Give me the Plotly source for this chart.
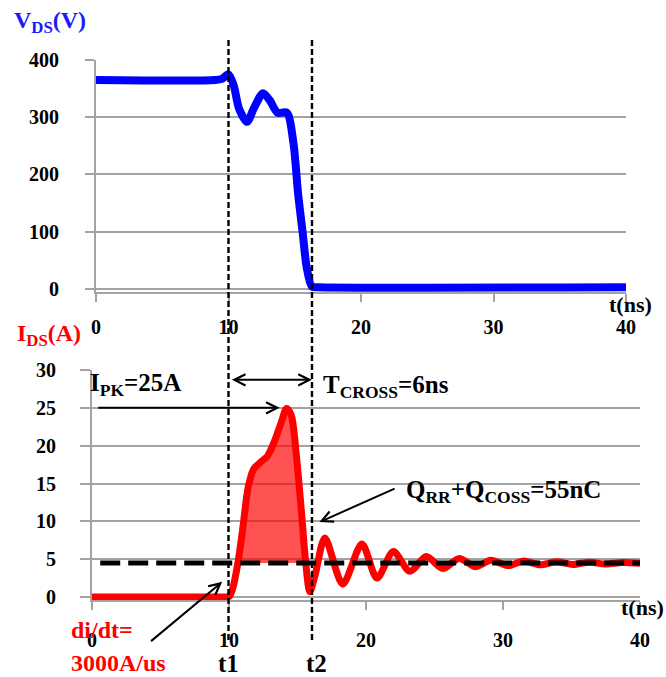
import plotly.graph_objects as go

# ---------------- data ----------------
t_v = [0, 9.0, 9.5, 10.0, 10.4, 10.8, 11.4, 11.9, 12.6, 13.1, 13.7, 14.4, 14.9,
       15.25, 15.6, 15.9, 16.3, 16.8, 40]
v_ds = [365, 365, 367, 375, 355, 315, 292, 315, 342, 330, 308, 308, 255,
        167, 98, 38, 4, 3, 3]

t_i = [0, 5.0, 9.6, 10.0, 10.25, 10.65, 11.0, 11.4, 11.8, 12.3, 12.8, 13.3, 13.8, 14.2, 14.55,
       14.9, 15.3, 15.6, 15.9, 16.3, 17.0, 18.3, 19.7, 20.8, 22.0, 23.2, 24.4, 25.6,
       26.8, 28.0, 29.1, 30.4, 31.5, 32.7, 33.9, 35.1, 36.3, 37.5, 38.7, 40]
i_ds = [0, 0, 0, 0.05, 1.0, 4.5, 9.0, 14.5, 16.9, 17.8, 18.6, 20.5, 23.0, 24.9, 24.0,
        19.0, 11.0, 4.5, 0.7, 3.0, 7.8, 1.7, 7.0, 2.5, 6.0, 3.4, 5.35, 3.75,
        5.1, 4.0, 4.85, 4.15, 4.75, 4.25, 4.65, 4.3, 4.6, 4.35, 4.55, 4.45]

i_avg = 4.5              # average current level (dashed line)
i_avg_t = [0.6, 40]
t1, t2 = 10.0, 16.3       # switching instants
fill_start, fill_end = 10.65, 15.6

x_ticks = [0, 10, 20, 30, 40]
x_tick_text = ["0", "10", "20", "30", "40"]
v_ticks = [0, 100, 200, 300, 400]
v_tick_text = ["0", "100", "200", "300", "400"]
i_ticks = [0, 5, 10, 15, 20, 25, 30]
i_tick_text = ["0", "5", "10", "15", "20", "25", "30"]

i_pk = 25
t_pk = 13.7

# ---------------- styling ----------------
FONT = "Liberation Serif"
BLUE = "#0000FF"
RED = "#FF0000"
GRID = "#A3A3A3"
W, H = 666, 677


def px(x):
    return x / W


def py(y):
    return 1 - y / H


fig = go.Figure()

# VDS
fig.add_trace(go.Scatter(x=t_v, y=v_ds, mode="lines", xaxis="x", yaxis="y",
                         line=dict(color=BLUE, width=8, shape="spline", smoothing=0.8),
                         showlegend=False, hoverinfo="skip"))

# fill area (charge)
seg = [(t, i) for t, i in zip(t_i, i_ds) if fill_start <= t <= fill_end]
seg_t = [s[0] for s in seg]
seg_i = [s[1] for s in seg]
fig.add_trace(go.Scatter(x=seg_t, y=[i_avg] * len(seg_t), mode="lines", xaxis="x2", yaxis="y2",
                         line=dict(width=0), showlegend=False, hoverinfo="skip"))
fig.add_trace(go.Scatter(x=seg_t, y=seg_i, mode="lines", xaxis="x2", yaxis="y2",
                         line=dict(width=0, shape="spline", smoothing=0.8),
                         fill="tonexty", fillcolor="rgba(255,0,0,0.68)",
                         showlegend=False, hoverinfo="skip"))

# IDS
fig.add_trace(go.Scatter(x=t_i, y=i_ds, mode="lines", xaxis="x2", yaxis="y2",
                         line=dict(color=RED, width=7, shape="spline", smoothing=0.8),
                         showlegend=False, hoverinfo="skip"))

# average current dashed line
fig.add_trace(go.Scatter(x=i_avg_t, y=[i_avg, i_avg], mode="lines", xaxis="x2", yaxis="y2",
                         line=dict(color="black", width=5, dash="20px,8px"),
                         showlegend=False, hoverinfo="skip"))

tickfont = dict(family=FONT, size=20, color="black", weight="bold")
axis_common = dict(gridcolor=GRID, gridwidth=1.8, automargin=False,
                   showline=True, linecolor=GRID, linewidth=1.8,
                   ticks="outside", tickcolor=GRID, tickwidth=1.8,
                   tickfont=tickfont, zeroline=False, fixedrange=True)

fig.update_layout(
    width=W, height=H,
    margin=dict(l=0, r=0, t=0, b=0, autoexpand=False),
    paper_bgcolor="white", plot_bgcolor="white",
    xaxis=dict(domain=[px(96), px(626)], range=[0, 40], anchor="y",
               tickvals=x_ticks, ticktext=x_tick_text, ticklen=8,
               ticklabelstandoff=8, showgrid=False, **axis_common),
    yaxis=dict(domain=[py(292.4), py(60)], range=[-6, 400], anchor="x",
               tickvals=v_ticks, ticktext=v_tick_text, ticklen=9,
               ticklabelstandoff=22, showgrid=True, **axis_common),
    xaxis2=dict(domain=[px(92), px(640)], range=[0, 40], anchor="y2",
                tickvals=x_ticks, ticktext=x_tick_text, ticklen=8,
                ticklabelstandoff=13, showgrid=False, **axis_common),
    yaxis2=dict(domain=[py(600.4), py(370)], range=[-0.45, 30], anchor="x2",
                tickvals=i_ticks, ticktext=i_tick_text, ticklen=10,
                ticklabelstandoff=20, showgrid=True, **axis_common),
)

# vertical dashed lines at t1, t2
for tv in (t1, t2):
    fig.add_shape(type="line", xref="x", yref="paper", x0=tv, x1=tv,
                  y0=py(640), y1=py(38),
                  line=dict(color="black", width=2.4, dash="6px,3px"))

ann_font = dict(family=FONT, size=25, color="black", weight="bold")
red_font = dict(family=FONT, size=24, color=RED, weight="bold")
blue_font = dict(family=FONT, size=24, color="#1a1aff", weight="bold")

texts = [
    ("V<sub>DS</sub>(V)", 12, 22, "left", blue_font),
    ("I<sub>DS</sub>(A)", 15, 335, "left", red_font),
    ("t(ns)", 607, 304, "left", dict(ann_font, size=22)),
    ("t(ns)", 619, 607, "left", dict(ann_font, size=22)),
    ("I<sub>PK</sub>=25A", 88, 384, "left", ann_font),
    ("T<sub>CROSS</sub>=6ns", 321, 386, "left", ann_font),
    ("Q<sub>RR</sub>+Q<sub>COSS</sub>=55nC", 404, 491, "left", ann_font),
    ("di/dt=", 69, 630, "left", red_font),
    ("3000A/us", 69, 663, "left", red_font),
    ("t1", 228, 663, "center", ann_font),
    ("t2", 316, 663, "center", ann_font),
]
for txt, x, y, xa, f in texts:
    fig.add_annotation(text=txt, x=px(x), y=py(y), xref="paper", yref="paper",
                       xanchor=xa, yanchor="middle", showarrow=False, font=f)

arrow_common = dict(xref="x2", yref="y2", axref="x2", ayref="y2", text="",
                    showarrow=True, arrowcolor="black", arrowwidth=2,
                    arrowhead=5, arrowsize=1.1, standoff=0, startstandoff=0)

# I_PK arrow
fig.add_annotation(x=t_pk, y=i_pk, ax=0.35, ay=i_pk, **arrow_common)
# T_CROSS double arrow
fig.add_annotation(x=t2 - 0.25, y=28.7, ax=t1 + 0.1, ay=28.7, arrowside="end+start",
                   startarrowhead=5, startarrowsize=1.1,
                   **arrow_common)
# Q arrow
fig.add_annotation(x=16.6, y=9.9, ax=22.2, ay=14.4, **arrow_common)
# di/dt arrow
fig.add_annotation(x=9.5, y=2.0, ax=4.2, ay=-6.0, **arrow_common)

fig.write_html("out.html", config={"displayModeBar": False},
               post_script="document.body.style.margin='0';document.body.style.overflow='hidden';")
